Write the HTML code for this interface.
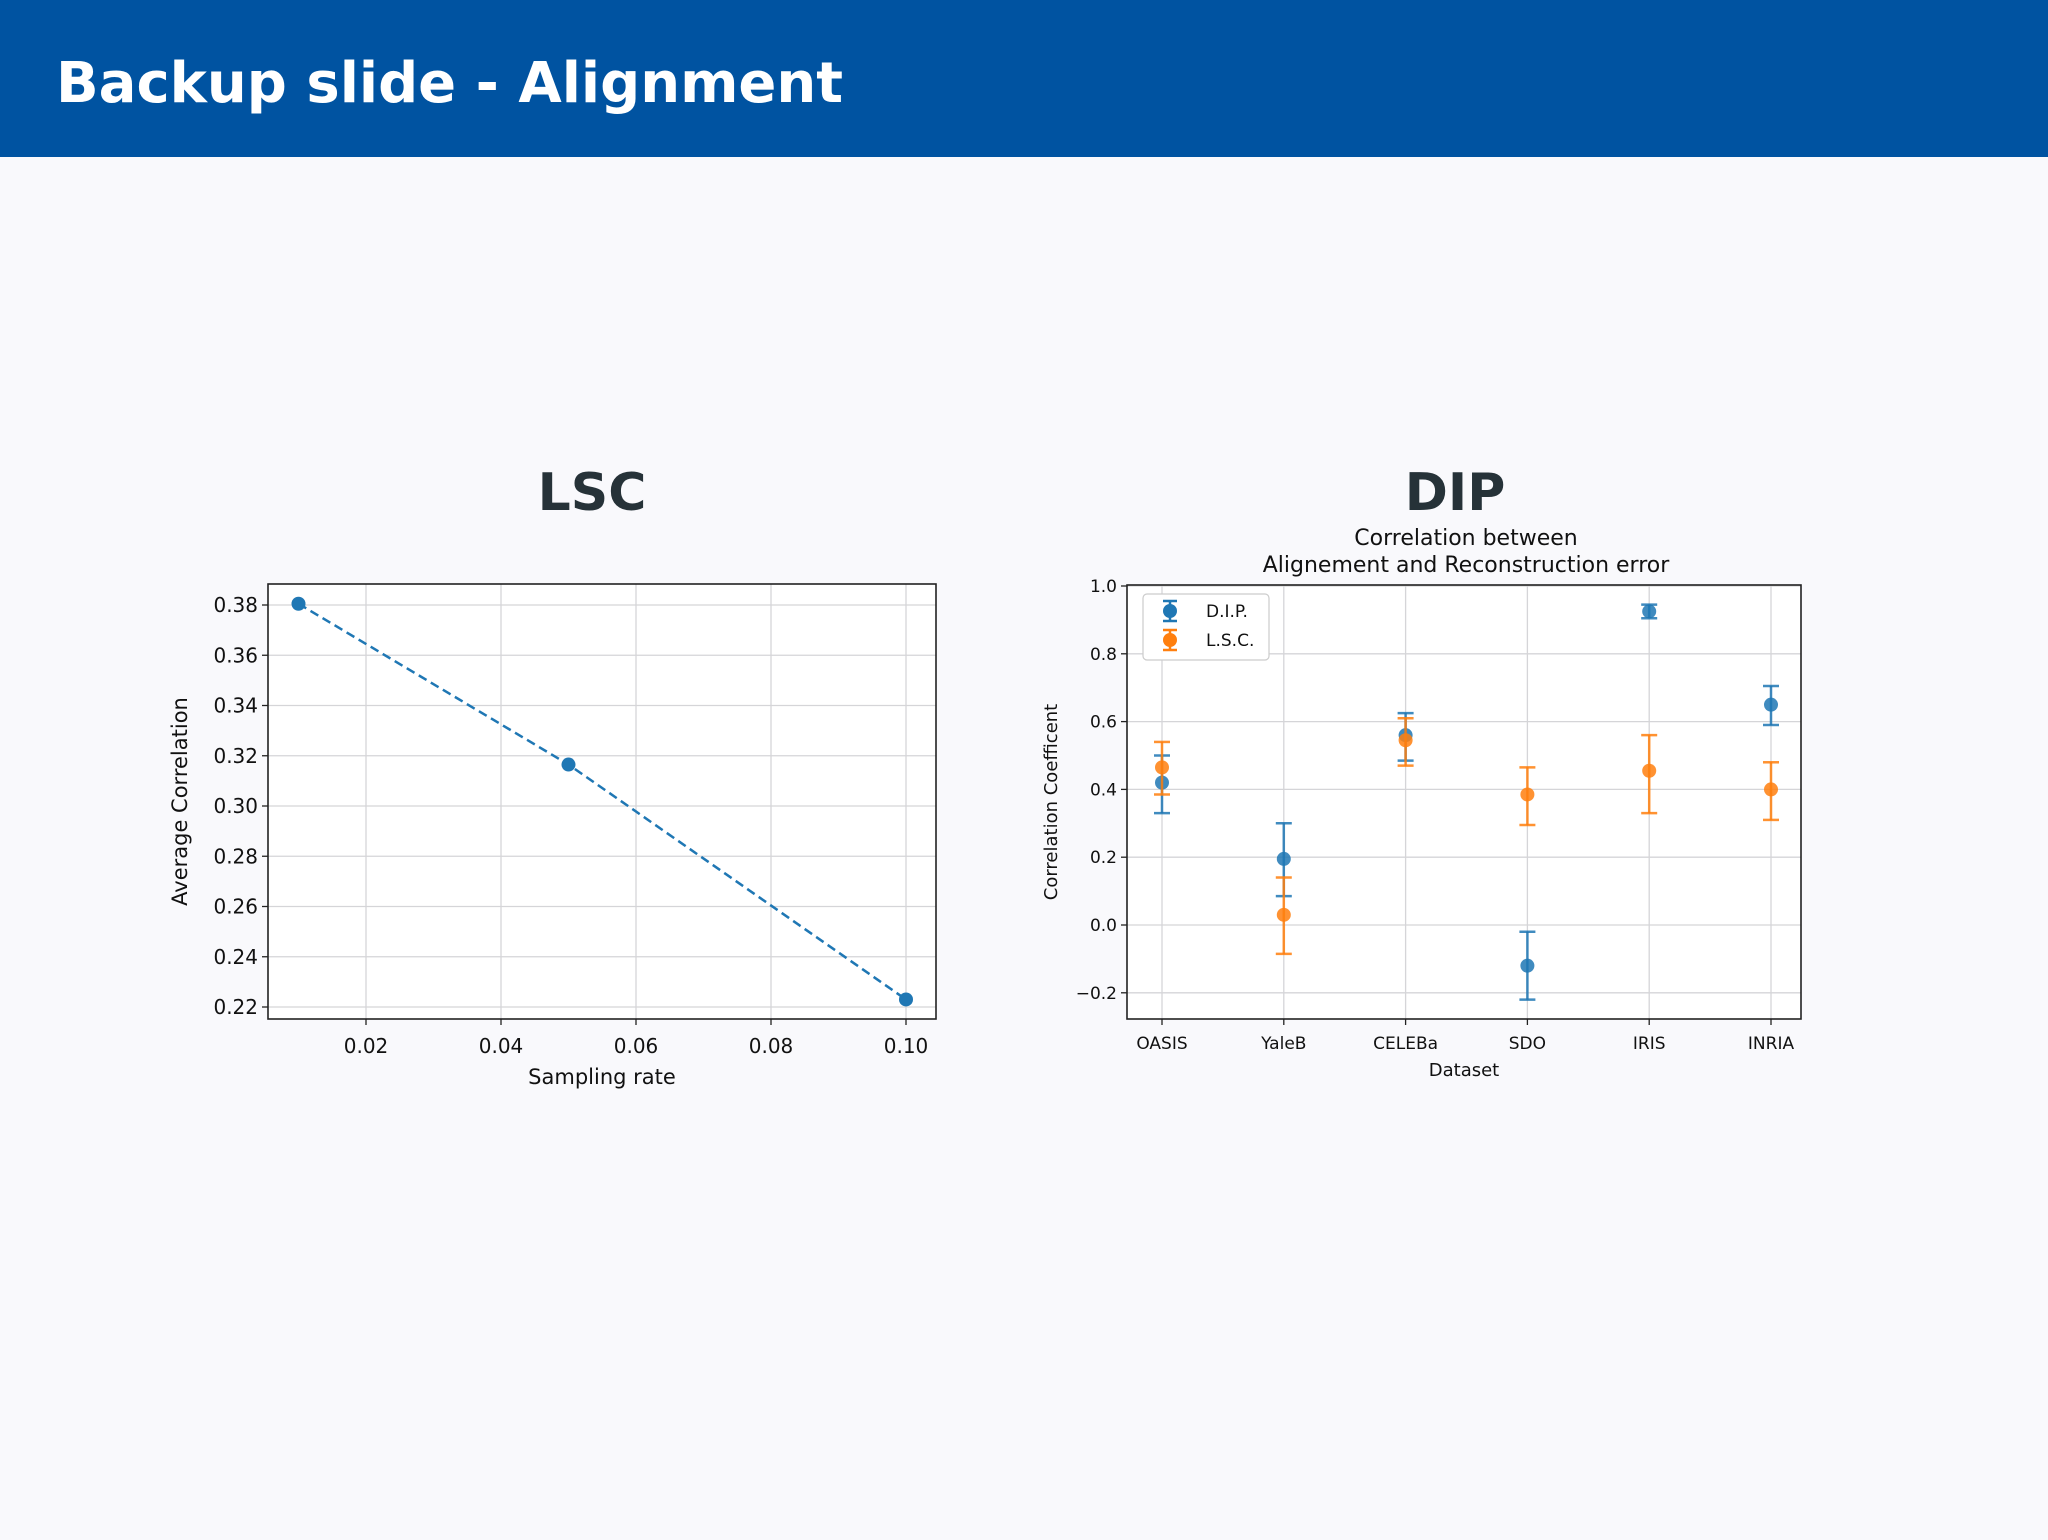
<!DOCTYPE html>
<html><head><meta charset="utf-8"><style>
body{margin:0;width:2048px;height:1536px;overflow:hidden;background:#f9f9fc;font-family:"DejaVu Sans","Liberation Sans",sans-serif}
</style></head><body>
<svg id="s" width="2048" height="1536" xmlns="http://www.w3.org/2000/svg" font-family="DejaVu Sans, Liberation Sans, sans-serif">
<rect x="0" y="0" width="2048" height="157" fill="#0053a1"/>
<text x="56" y="102" font-size="56" font-weight="bold" fill="#fff" font-family="DejaVu Sans, sans-serif">Backup slide - Alignment</text>
<text x="592" y="510" font-size="52" font-weight="bold" fill="#263238" text-anchor="middle" font-family="DejaVu Sans, sans-serif">LSC</text>
<text x="1455" y="510" font-size="52" font-weight="bold" fill="#263238" text-anchor="middle" font-family="DejaVu Sans, sans-serif">DIP</text>
<g id="c1"></g>
<g id="c2"></g>
</svg>
<script>
const lscX=[0.01,0.05,0.10];
const lscY=[0.3805,0.3165,0.223];
const lscXTicks=[0.02,0.04,0.06,0.08,0.10];
const lscYTicks=[0.22,0.24,0.26,0.28,0.30,0.32,0.34,0.36,0.38];
const dipCats=["OASIS","YaleB","CELEBa","SDO","IRIS","INRIA"];
const dipVal=[0.42,0.195,0.56,-0.12,0.925,0.65];
const dipHi=[0.50,0.30,0.625,-0.02,0.945,0.705];
const dipLo=[0.33,0.085,0.485,-0.22,0.905,0.59];
const lscVal=[0.465,0.03,0.545,0.385,0.455,0.40];
const lscHi=[0.54,0.14,0.61,0.465,0.56,0.48];
const lscLo=[0.385,-0.085,0.47,0.295,0.33,0.31];
const dipYTicks=[-0.2,0.0,0.2,0.4,0.6,0.8,1.0];
const NS="http://www.w3.org/2000/svg";
function mk(p,t,a,txt){const e=document.createElementNS(NS,t);for(const k in a)e.setAttribute(k,a[k]);if(txt!==undefined)e.textContent=txt;p.appendChild(e);return e;}
// Chart 1
(function(){
const g=document.getElementById('c1');
const L=268,R=936,T=584,B=1019;
const sx=v=>366+(v-0.02)*6750, sy=v=>605+(0.38-v)*2512.5;
const bg=mk(g,'rect',{x:L,y:T,width:R-L,height:B-T,fill:'#fff'});
lscXTicks.forEach(v=>{const l=mk(g,'line',{x1:sx(v),x2:sx(v),y1:T,y2:B,stroke:'#d5d5d8','stroke-width':1.3});
const tk=mk(g,'line',{x1:sx(v),x2:sx(v),y1:B,y2:B+6,stroke:'#222','stroke-width':1.3});
const t=mk(g,'text',{x:sx(v),y:B+34,'font-size':20,'text-anchor':'middle',fill:'#111'},v.toFixed(2));});
lscYTicks.forEach(v=>{const l=mk(g,'line',{x1:L,x2:R,y1:sy(v),y2:sy(v),stroke:'#d5d5d8','stroke-width':1.3});
const tk=mk(g,'line',{x1:L-6,x2:L,y1:sy(v),y2:sy(v),stroke:'#222','stroke-width':1.3});
const t=mk(g,'text',{x:L-10,y:sy(v)+7,'font-size':20,'text-anchor':'end',fill:'#111'},v.toFixed(2));});
const fr=mk(g,'rect',{x:L,y:T,width:R-L,height:B-T,fill:'none',stroke:'#222','stroke-width':1.6});
const pl=mk(g,'polyline',{points:lscX.map((x,i)=>sx(x)+','+sy(lscY[i])).join(' '),fill:'none',stroke:'#1f77b4','stroke-width':2.5,'stroke-dasharray':'9,5'});
lscX.forEach((x,i)=>{const c=mk(g,'circle',{cx:sx(x),cy:sy(lscY[i]),r:7,fill:'#1f77b4'});});
const xl=mk(g,'text',{x:(L+R)/2,y:1084,'font-size':21,'text-anchor':'middle',fill:'#111'},'Sampling rate');
const yl=mk(g,'text',{x:0,y:0,'font-size':21,'text-anchor':'middle',fill:'#111',transform:'translate(187,'+(T+B)/2+') rotate(-90)'},'Average Correlation');
})();
// Chart 2
(function(){
const g=document.getElementById('c2');
const L=1127,R=1801,T=585,B=1019;
const sx=i=>1162+i*121.8, sy=v=>586+(1.0-v)*339;
const bg=mk(g,'rect',{x:L,y:T,width:R-L,height:B-T,fill:'#fff'});
dipCats.forEach((c,i)=>{const l=mk(g,'line',{x1:sx(i),x2:sx(i),y1:T,y2:B,stroke:'#d5d5d8','stroke-width':1.3});
const tk=mk(g,'line',{x1:sx(i),x2:sx(i),y1:B,y2:B+6,stroke:'#222','stroke-width':1.3});
const t=mk(g,'text',{x:sx(i),y:B+30,'font-size':17,'text-anchor':'middle',fill:'#111'},c);});
dipYTicks.forEach(v=>{const l=mk(g,'line',{x1:L,x2:R,y1:sy(v),y2:sy(v),stroke:'#d5d5d8','stroke-width':1.3});
const tk=mk(g,'line',{x1:L-6,x2:L,y1:sy(v),y2:sy(v),stroke:'#222','stroke-width':1.3});
const t=mk(g,'text',{x:L-10,y:sy(v)+6,'font-size':17,'text-anchor':'end',fill:'#111'},(v<0?'\u2212':'')+Math.abs(v).toFixed(1));});
const fr=mk(g,'rect',{x:L,y:T,width:R-L,height:B-T,fill:'none',stroke:'#222','stroke-width':1.6});
function series(val,hi,lo,col,name){dipCats.forEach((c,i)=>{const x=sx(i);
const e=mk(g,'line',{x1:x,x2:x,y1:sy(hi[i]),y2:sy(lo[i]),stroke:col,'stroke-width':2.5,opacity:0.85});
[hi[i],lo[i]].forEach(v=>{const cp=mk(g,'line',{x1:x-8,x2:x+8,y1:sy(v),y2:sy(v),stroke:col,'stroke-width':2.5,opacity:0.85});});
const p=mk(g,'circle',{cx:x,cy:sy(val[i]),r:7,fill:col,opacity:0.85});});}
series(dipVal,dipHi,dipLo,'#1f77b4','dip');
series(lscVal,lscHi,lscLo,'#ff7f0e','lsc');
const lg=mk(g,'g',{});
mk(lg,'rect',{x:1143,y:594,width:126,height:66,rx:4,fill:'#fff',stroke:'#ccc','stroke-width':1.2});
[['D.I.P.','#1f77b4',611],['L.S.C.','#ff7f0e',640]].forEach(([n,c,y])=>{const e=mk(lg,'g',{});
mk(e,'line',{x1:1170,x2:1170,y1:y-10,y2:y+10,stroke:c,'stroke-width':2.5});mk(e,'line',{x1:1163,x2:1177,y1:y-10,y2:y-10,stroke:c,'stroke-width':2.5});mk(e,'line',{x1:1163,x2:1177,y1:y+10,y2:y+10,stroke:c,'stroke-width':2.5});
mk(e,'circle',{cx:1170,cy:y,r:7,fill:c});mk(e,'text',{x:1206,y:y+6,'font-size':17,fill:'#111'},n);});
const t1=mk(g,'text',{x:1466,y:545,'font-size':22,'text-anchor':'middle',fill:'#111'},'Correlation between');
const t2=mk(g,'text',{x:1466,y:572,'font-size':22,'text-anchor':'middle',fill:'#111'},'Alignement and Reconstruction error');
const xl=mk(g,'text',{x:(L+R)/2,y:1076,'font-size':18,'text-anchor':'middle',fill:'#111'},'Dataset');
const yl=mk(g,'text',{x:0,y:0,'font-size':18,'text-anchor':'middle',fill:'#111',transform:'translate(1057,'+(T+B)/2+') rotate(-90)'},'Correlation Coefficent');
})();
</script>
</body></html>
